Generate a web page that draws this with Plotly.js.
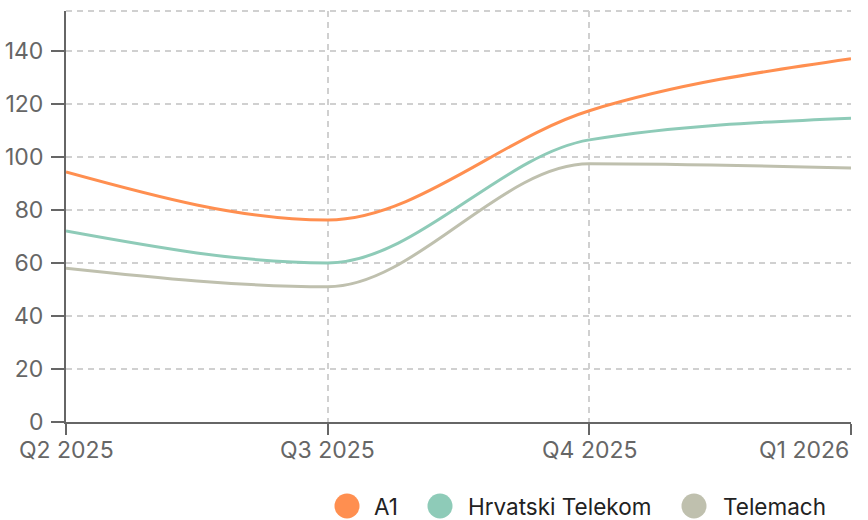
<!DOCTYPE html>
<html><head><meta charset="utf-8">
<script src="https://cdn.plot.ly/plotly-3.0.1.min.js"></script>
<style>html,body{margin:0;padding:0;background:#fff}#chart{width:868px;height:520px}</style>
</head><body><div id="chart"></div>
<script>
const quarters = ["Q2 2025", "Q3 2025", "Q4 2025", "Q1 2026"];
const a1 = [94.3, 76.2, 117.4, 137.0];
const hrvatskiTelekom = [72.0, 60.0, 106.4, 114.6];
const telemach = [58.0, 51.0, 97.4, 95.8];
const yTicks = [0, 20, 40, 60, 80, 100, 120, 140];
const names = ["A1", "Hrvatski Telekom", "Telemach"];
const colors = ["#FF8F50", "#8ECBB8", "#BFC0AE"];
const series = [a1, hrvatskiTelekom, telemach];

const xIdx = quarters.map((q, i) => i);

// data traces (line drawn by monotone-cubic path on the same axes below)
const traces = series.map((s, i) => ({
  x: xIdx, y: s, name: names[i], type: "scatter", mode: "lines", showlegend: false,
  opacity: 0, line: {color: colors[i], width: 3}
}));

// monotone-X cubic (Fritsch–Carlson, as d3.curveMonotoneX) expressed as an SVG path in data units
function sign(v) { return v < 0 ? -1 : 1; }
function monotonePath(xs, ys) {
  const n = xs.length, t = new Array(n), s = [];
  for (let i = 0; i < n - 1; i++) s.push((ys[i + 1] - ys[i]) / (xs[i + 1] - xs[i]));
  for (let i = 1; i < n - 1; i++) {
    const h0 = xs[i] - xs[i - 1], h1 = xs[i + 1] - xs[i];
    const p = (s[i - 1] * h1 + s[i] * h0) / (h0 + h1);
    t[i] = (sign(s[i - 1]) + sign(s[i])) * Math.min(Math.abs(s[i - 1]), Math.abs(s[i]), 0.5 * Math.abs(p)) || 0;
  }
  t[0] = (3 * s[0] - t[1]) / 2;
  t[n - 1] = (3 * s[n - 2] - t[n - 2]) / 2;
  let d = "M" + xs[0] + "," + ys[0];
  for (let i = 0; i < n - 1; i++) {
    const dx = (xs[i + 1] - xs[i]) / 3;
    d += " C" + (xs[i] + dx) + "," + (ys[i] + dx * t[i]) + " " + (xs[i + 1] - dx) + "," + (ys[i + 1] - dx * t[i + 1]) +
         " " + xs[i + 1] + "," + ys[i + 1];
  }
  return d;
}

const plotL = 66, plotR = 851, plotT = 11, plotB = 422;
const px2x = p => (p - plotL) / (plotR - plotL);
const px2y = p => (plotB - p) / (plotB - plotT);

const shapes = [{type: "line", xref: "paper", yref: "paper", x0: 0, x1: 1, y0: 1, y1: 1,
  line: {color: "#d0d0d0", width: 2, dash: "6px,5px"}, layer: "below"}];
series.forEach((s, i) => {
  shapes.push({type: "path", xref: "x", yref: "y", path: monotonePath(xIdx, s),
    line: {color: colors[i], width: 3}, fillcolor: "rgba(0,0,0,0)"});
});

// custom legend (large circle swatches) built from names/colors
const legendX = [347, 440, 694];
const legendTextX = [372, 466, 721];
const legendY = 506;
const annotations = [];
names.forEach((n, i) => {
  shapes.push({type: "circle", xref: "paper", yref: "paper", xsizemode: "pixel", ysizemode: "pixel",
    xanchor: px2x(legendX[i]), yanchor: px2y(legendY), x0: -12.5, x1: 12.5, y0: -12.5, y1: 12.5,
    fillcolor: colors[i], line: {width: 0}});
  annotations.push({xref: "paper", yref: "paper", x: px2x(legendTextX[i]), y: px2y(legendY),
    xanchor: "left", yanchor: "middle", text: n, showarrow: false,
    font: {size: 22.5, color: "#222"}});
});
// x tick labels (last one right-aligned like the reference)
const xAnchors = ["center", "center", "center", "right"];
quarters.forEach((q, i) => {
  annotations.push({xref: "x", yref: "paper", x: xIdx[i], y: 0, yshift: -12, xanchor: xAnchors[i], yanchor: "top",
    text: q, showarrow: false, font: {size: 23, color: "#666"}});
});

const layout = {
  width: 868, height: 520,
  margin: {l: plotL, r: 868 - plotR, t: plotT, b: 520 - plotB},
  paper_bgcolor: "#fff", plot_bgcolor: "#fff",
  font: {family: "Inter, sans-serif", size: 23, color: "#666"},
  showlegend: false,
  xaxis: {type: "linear", range: [0, 3], tickvals: xIdx, showgrid: true, gridcolor: "#d0d0d0", griddash: "6px,5px",
    gridwidth: 2, showline: true, linecolor: "#666", linewidth: 2, ticks: "outside", ticklen: 11,
    tickcolor: "#666", tickwidth: 2, zeroline: false, showticklabels: false, automargin: false},
  yaxis: {range: [0, 155], tickvals: yTicks, showgrid: true, gridcolor: "#d0d0d0",
    griddash: "6px,5px", gridwidth: 2, showline: true, linecolor: "#666", linewidth: 2, ticks: "outside",
    ticklen: 13, ticklabelstandoff: 3, tickcolor: "#666", tickwidth: 2, zeroline: false,
    tickfont: {size: 23, color: "#666"}, automargin: false},
  shapes: shapes,
  annotations: annotations
};
Plotly.newPlot("chart", traces, layout, {displayModeBar: false, staticPlot: true});
</script></body></html>
